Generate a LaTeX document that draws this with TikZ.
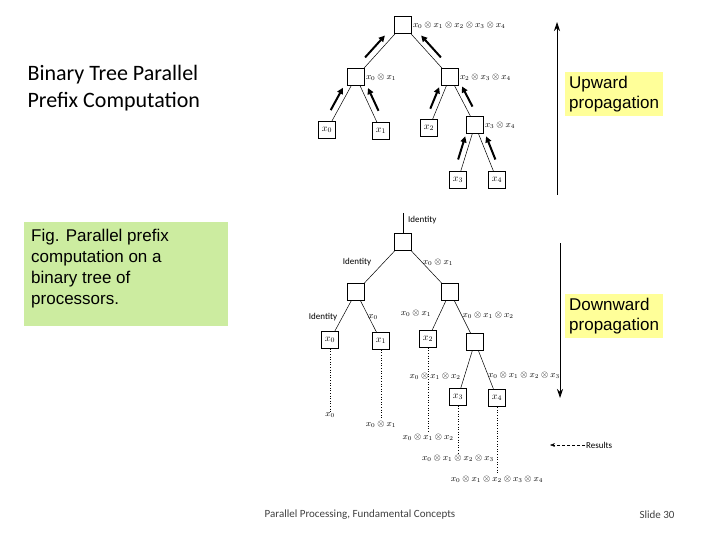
\documentclass[tikz,border=0pt]{standalone}
\usepackage{fontspec}
\setmainfont{Carlito}
\newfontfamily\arialf{Liberation Sans}
\usetikzlibrary{arrows.meta,calc}
\definecolor{ylw}{RGB}{255,255,153}
\definecolor{grn}{RGB}{204,236,160}
\begin{document}
\begin{tikzpicture}[x=1pt,y=-1pt,
  pbox/.style={draw,minimum size=17pt,inner sep=0pt,line width=0.6pt},
  edge/.style={line width=0.5pt},
  lab/.style={font=\fontsize{9}{9}\selectfont,inner sep=1pt},
  thickarr/.style={line width=2pt,-{Triangle[length=6pt,width=6pt]}},
  dots/.style={dotted,line width=0.6pt},
  callout/.style={fill=ylw,font=\arialf\fontsize{17}{20}\selectfont,align=left,inner sep=4pt,anchor=north west}]
\useasboundingbox (0,0) rectangle (720,540);
% title
\node[anchor=west,font=\fontsize{22}{27}\selectfont,align=left] (title) at (24,88) {Binary Tree Parallel\\Prefix Computation};
\node[fill=grn,anchor=north west,minimum width=204pt,minimum height=104pt,inner sep=6pt] (fig) at (24,222) {};
\node[anchor=north west,align=left,font=\arialf\fontsize{17}{21}\selectfont,inner sep=0pt] (figt) at (31,229) {Fig. Parallel prefix\\computation on a\\binary tree of\\processors.};
% --- upward tree
\node[pbox] (r) at (403,25) {};
\node[pbox] (a) at (356,77) {};
\node[pbox] (b) at (450,77) {};
\node[pbox] (l0) at (327,130) {$x_0$};
\node[pbox] (l1) at (381,131) {$x_1$};
\node[pbox] (l2) at (429,128) {$x_2$};
\node[pbox] (c) at (475,125) {};
\node[pbox] (l3) at (458,180) {$x_3$};
\node[pbox] (l4) at (497,180) {$x_4$};
\foreach \p/\q in {r/a,r/b,a/l0,a/l1,b/l2,b/c,c/l3,c/l4} \draw[edge] (\p) -- (\q);
\node[lab,anchor=west] (tr) at (r.east) {$x_0\otimes x_1\otimes x_2\otimes x_3\otimes x_4$};
\node[lab,anchor=west] (ta) at (a.east) {$x_0\otimes x_1$};
\node[lab,anchor=west] (tb) at (b.east) {$x_2\otimes x_3\otimes x_4$};
\node[lab,anchor=west] (tc) at (c.east) {$x_3\otimes x_4$};
\foreach \s/\t/\d in {a/r/-1,b/r/1,l0/a/-1,l1/a/1,l2/b/-1,c/b/1,l3/c/-1,l4/c/1}
  \draw[thickarr] ($(\s)!0.3!(\t)+(\d*5,-4)$) -- ($(\s)!0.72!(\t)+(\d*5,-4)$);
% --- downward tree
\coordinate (top) at (403,213);
\node[pbox] (R) at (403,242) {};
\node[pbox] (A) at (356,292) {};
\node[pbox] (B) at (450,292) {};
\node[pbox] (L0) at (330,340) {$x_0$};
\node[pbox] (L1) at (381,341) {$x_1$};
\node[pbox] (L2) at (428,339) {$x_2$};
\node[pbox] (C) at (475,342) {};
\node[pbox] (L3) at (458,397) {$x_3$};
\node[pbox,line width=1.5pt] (L4) at (497,398) {$x_4$};
\draw[edge] (top) -- (R);
\foreach \p/\q in {R/A,R/B,A/L0,A/L1,B/L2,B/C,C/L3,C/L4} \draw[edge] (\p) -- (\q);
\node[lab,anchor=west] at (407,220) {Identity};
\node[lab] at (357,262) {Identity};
\node[lab] at (438,262) {$x_0\otimes x_1$};
\node[lab] at (323,317) {Identity};
\node[lab] at (373,317) {$x_0$};
\node[lab] at (416,313) {$x_0\otimes x_1$};
\node[lab] at (488,315) {$x_0\otimes x_1\otimes x_2$};
\node[lab] at (435,376) {$x_0\otimes x_1\otimes x_2$};
\node[lab] at (524,375) {$x_0\otimes x_1\otimes x_2\otimes x_3$};
\node[lab] (o0) at (330,415) {$x_0$};
\node[lab] (o1) at (381,424) {$x_0\otimes x_1$};
\node[lab] (o2) at (428,437) {$x_0\otimes x_1\otimes x_2$};
\node[lab] (o3) at (458,458) {$x_0\otimes x_1\otimes x_2\otimes x_3$};
\node[lab] (o4) at (497,479) {$x_0\otimes x_1\otimes x_2\otimes x_3\otimes x_4$};
\draw[dots] (L0) -- (L0 |- o0.north);
\draw[dots] (L1) -- (L1 |- o1.north);
\draw[dots] (L2) -- (L2 |- o2.north);
\draw[dots] (L3) -- (L3 |- o3.north);
\draw[dots] (L4) -- (L4 |- o4.north);
\node[lab,anchor=west] (res) at (585,445) {Results};
\coordinate (resend) at (550,445);
\draw[densely dashed,line width=0.4pt,-{Stealth[length=5pt]}] (res) -- (resend);
% vertical arrows
\coordinate (u1) at (557,195); \coordinate (u2) at (557,22);
\draw[line width=0.8pt,-{Stealth[length=9pt,width=6pt]}] (u1) -- (u2);
\coordinate (d1) at (560,243); \coordinate (d2) at (560,398);
\draw[line width=0.8pt,-{Stealth[length=9pt,width=6pt]}] (d1) -- (d2);
\node[callout] (up) at (565,72) {Upward\\propagation};
\node[callout] (dn) at (565,294) {Downward\\propagation};
% footer
\node[font=\fontsize{11}{12}\selectfont,text=black!75] (foot) at (360,515) {Parallel Processing, Fundamental Concepts};
\node[font=\fontsize{11}{12}\selectfont,text=black!75] (slide) at (657,515) {Slide 30};
\end{tikzpicture}
\end{document}
